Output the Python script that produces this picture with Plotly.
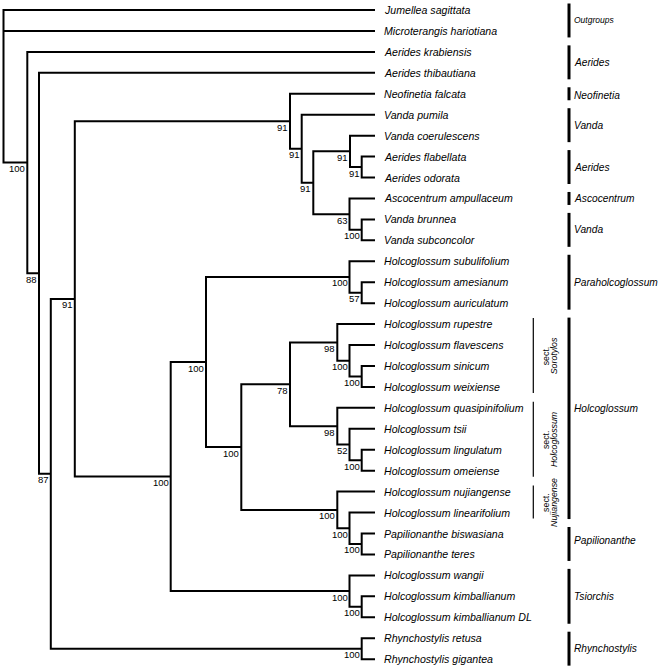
import plotly.graph_objects as go

# ---------------- data ----------------
taxa = ["Jumellea sagittata", "Microterangis hariotiana", "Aerides krabiensis", "Aerides thibautiana",
        "Neofinetia falcata", "Vanda pumila", "Vanda coerulescens", "Aerides flabellata", "Aerides odorata",
        "Ascocentrum ampullaceum", "Vanda brunnea", "Vanda subconcolor", "Holcoglossum subulifolium",
        "Holcoglossum amesianum", "Holcoglossum auriculatum", "Holcoglossum rupestre",
        "Holcoglossum flavescens", "Holcoglossum sinicum", "Holcoglossum weixiense",
        "Holcoglossum quasipinifolium", "Holcoglossum tsii", "Holcoglossum lingulatum",
        "Holcoglossum omeiense", "Holcoglossum nujiangense", "Holcoglossum linearifolium",
        "Papilionanthe biswasiana", "Papilionanthe teres", "Holcoglossum wangii",
        "Holcoglossum kimballianum", "Holcoglossum kimballianum DL", "Rhynchostylis retusa",
        "Rhynchostylis gigantea"]
tip_depth = 371.5

node_names = ["root", "A", "B", "C", "D", "E", "G", "H", "I", "K", "J", "L", "F", "M", "P", "P2",
              "N", "Q", "So", "So2", "So3", "Ho", "Ho2", "Ho3", "S", "S2", "S3", "T", "T2", "Rh"]
node_depths = [0, 23.8, 35.5, 47.3, 71.3, 286.5, 298.2, 309.8, 346.5, 358.2, 346.0, 358.2, 167.2,
               202.5, 346.0, 358.2, 237.8, 286.5, 333.8, 346.0, 358.2, 333.8, 346.0, 358.2, 333.8,
               346.0, 358.2, 346.0, 358.2, 358.2]
node_support = [None, 100, 88, 87, 91, 91, 91, 91, 91, 91, 63, 100, 100, 100, 100, 57, 100, 78, 98,
                100, 100, 98, 52, 100, 100, 100, 100, 100, 100, 100]
node_children = [[0, 1, "A"], [2, "B"], [3, "C"], ["D", "Rh"], ["E", "F"], [4, "G"], [5, "H"],
                 ["I", "J"], [6, "K"], [7, 8], [9, "L"], [10, 11], ["M", "T"], ["P", "N"],
                 [12, "P2"], [13, 14], ["Q", "S"], ["So", "Ho"], [15, "So2"], [16, "So3"], [17, 18],
                 [19, "Ho2"], [20, "Ho3"], [21, 22], [23, "S2"], [24, "S3"], [25, 26], [27, "T2"],
                 [28, 29], [30, 31]]

genus_names = ["Outgroups", "Aerides", "Neofinetia", "Vanda", "Aerides", "Ascocentrum", "Vanda",
               "Paraholcoglossum", "Holcoglossum", "Papilionanthe", "Tsiorchis", "Rhynchostylis"]
genus_first = [0, 2, 4, 5, 7, 9, 10, 12, 15, 25, 27, 30]
genus_last = [1, 3, 4, 6, 8, 9, 11, 14, 24, 26, 29, 31]

sect_names = ["Sorotylos", "Holcoglossum", "Nujiangense"]
sect_first = [15, 19, 23]
sect_last = [18, 22, 24]

# ---------------- layout helpers ----------------
W, H = 662, 671
PXY = 20.94            # pixels per leaf step
Y_TOP = 10.0           # pixel of first leaf
X0 = 3.5               # pixel of root
def dy(px):            # pixel offset -> y units
    return px / PXY

depth = dict(zip(node_names, node_depths))
support = dict(zip(node_names, node_support))
children = dict(zip(node_names, node_children))

ypos = {}
def get_y(n):
    if isinstance(n, int):
        return float(n)
    if n in ypos:
        return ypos[n]
    ys = [get_y(c) for c in children[n]]
    ypos[n] = (ys[0] + ys[-1]) / 2
    return ypos[n]

def get_x(n):
    return tip_depth if isinstance(n, int) else depth[n]

for n in node_names:
    get_y(n)

xs, ys = [], []
for n in node_names:
    ch = children[n]
    xn = depth[n]
    c0, c1 = ch[0], ch[-1]
    xs += [get_x(c0), xn, xn, get_x(c1), None]
    ys += [get_y(c0), get_y(c0), get_y(c1), get_y(c1), None]
    for c in ch[1:-1]:
        xs += [xn, get_x(c), None]
        ys += [get_y(c), get_y(c), None]

fig = go.Figure()
fig.add_trace(go.Scatter(x=xs, y=ys, mode="lines", line=dict(color="black", width=2),
                         hoverinfo="skip", showlegend=False))

# genus bars
GX = 565.5
gxs, gys = [], []
for a, b in zip(genus_first, genus_last):
    gxs += [GX, GX, None]
    gys += [a - dy(6.5), b + dy(6.5), None]
fig.add_trace(go.Scatter(x=gxs, y=gys, mode="lines", line=dict(color="black", width=3),
                         hoverinfo="skip", showlegend=False))
# sect bars
SX = 529.8
sxs, sys_ = [], []
for a, b in zip(sect_first, sect_last):
    sxs += [SX, SX, None]
    sys_ += [a - dy(6), b + dy(6), None]
fig.add_trace(go.Scatter(x=sxs, y=sys_, mode="lines", line=dict(color="black", width=1.2),
                         hoverinfo="skip", showlegend=False))

ann = []
FONT = "Liberation Sans, Arial, sans-serif"
NARROW = "Liberation Sans Narrow, Arial Narrow, Liberation Sans, Arial, sans-serif"
# taxon labels
for i, t in enumerate(taxa):
    ann.append(dict(x=tip_depth + 8.5, y=i, text=t, showarrow=False, xanchor="left",
                    yanchor="middle", borderpad=0, borderwidth=0,
                    font=dict(family=FONT, size=10.6, color="black", style="italic")))
# support labels
for n in node_names:
    s = support[n]
    if s is None:
        continue
    ann.append(dict(x=depth[n] - 2, y=get_y(n) + dy(0.5), text=str(s), showarrow=False,
                    xanchor="right", yanchor="top", borderpad=0, borderwidth=0,
                    font=dict(family=NARROW, size=9.5, color="black")))
# genus labels
nudge = {"Holcoglossum": -9.5, "Papilionanthe": -3, "Neofinetia": 1.5}
for g, a, b in zip(genus_names, genus_first, genus_last):
    yc = (a + b) / 2 + dy(nudge.get(g, 0))
    ann.append(dict(x=GX + 4.5, y=yc, text=g, showarrow=False, xanchor="left", yanchor="middle",
                    borderpad=0, borderwidth=0,
                    font=dict(family=FONT, size=8.5 if g == "Outgroups" else 10.2,
                              color="black", style="italic")))
# sect labels
for s, a, b in zip(sect_names, sect_first, sect_last):
    yc = (a + b) / 2
    ann.append(dict(x=SX + 12.5, y=yc, text="sect.", showarrow=False, textangle=-90,
                    xanchor="center", yanchor="middle", borderpad=0, borderwidth=0,
                    font=dict(family=FONT, size=8.8, color="black")))
    ann.append(dict(x=SX + 20.5, y=yc, text=s, showarrow=False, textangle=-90,
                    xanchor="center", yanchor="middle", borderpad=0, borderwidth=0,
                    font=dict(family=FONT, size=8.8, color="black", style="italic")))

fig.update_layout(
    width=W, height=H, margin=dict(l=0, r=0, t=0, b=0),
    paper_bgcolor="white", plot_bgcolor="white", showlegend=False,
    annotations=ann,
    xaxis=dict(range=[-X0, W - X0], visible=False, fixedrange=True),
    yaxis=dict(range=[(H - Y_TOP) / PXY, -Y_TOP / PXY], visible=False, fixedrange=True),
)
fig.write_html("out.html", config={"displayModeBar": False},
               post_script="document.body.style.margin='0';document.body.style.overflow='hidden';")
